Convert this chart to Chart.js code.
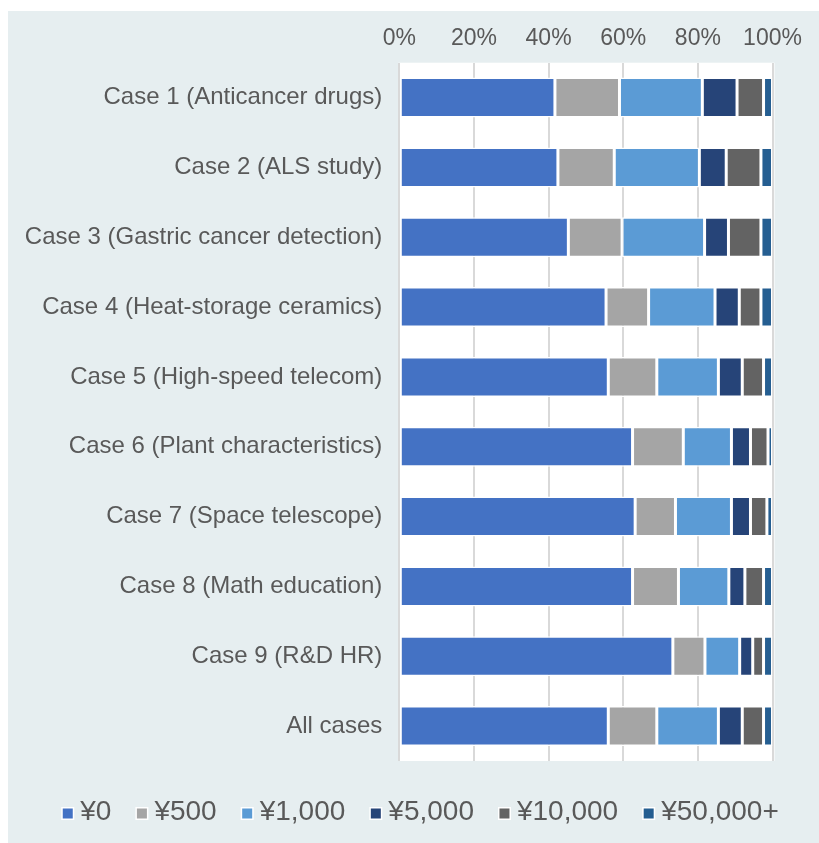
<!DOCTYPE html>
<html><head><meta charset="utf-8">
<script src="https://cdn.jsdelivr.net/npm/chart.js@4.4.1/dist/chart.umd.min.js"></script>
<style>html,body{margin:0;padding:0;background:#fff}canvas{display:block}</style>
</head><body>
<canvas id="c" width="819" height="843"></canvas>
<script>
const categories = [
  'Case 1 (Anticancer drugs)',
  'Case 2 (ALS study)',
  'Case 3 (Gastric cancer detection)',
  'Case 4 (Heat-storage ceramics)',
  'Case 5 (High-speed telecom)',
  'Case 6 (Plant characteristics)',
  'Case 7 (Space telescope)',
  'Case 8 (Math education)',
  'Case 9 (R&D HR)',
  'All cases'
];
const seriesLabels = ['¥0', '¥500', '¥1,000', '¥5,000', '¥10,000', '¥50,000+'];
const seriesColors = ['#4472c4', '#a5a5a5', '#5b9bd5', '#264478', '#636363', '#255e91'];
const yen0     = [41.7, 42.5, 45.3, 55.4, 56.0, 62.5, 63.2, 62.5, 73.3, 56.0];
const yen500   = [17.3, 15.1, 14.4, 11.4, 13.0, 13.6, 10.8, 12.3,  8.6, 13.0];
const yen1000  = [22.2, 22.8, 22.1, 17.8, 16.5, 12.9, 15.0, 13.5,  9.3, 16.5];
const yen5000  = [ 9.3,  7.2,  6.4,  6.5,  6.4,  5.1,  5.1,  4.3,  3.5,  6.4];
const yen10000 = [ 7.1,  9.3,  8.7,  5.8,  5.7,  4.7,  4.4,  5.0,  2.9,  5.7];
const yen50000 = [ 2.4,  3.1,  3.1,  3.1,  2.4,  1.2,  1.5,  2.4,  2.4,  2.4];
const xTickValues = [0, 20, 40, 60, 80, 100];
const seriesValues = [yen0, yen500, yen1000, yen5000, yen10000, yen50000];

const FONT = "'Liberation Sans', Arial, Helvetica, sans-serif";
const TEXT = '#595959';

const bgPlugin = {
  id: 'bg',
  beforeDraw(chart) {
    const ctx = chart.ctx, a = chart.chartArea;
    ctx.save();
    ctx.fillStyle = '#ffffff';
    ctx.fillRect(0, 0, chart.width, chart.height);
    ctx.fillStyle = '#e6eef0';
    ctx.fillRect(8, 11, chart.width - 8, chart.height - 11);
    ctx.fillStyle = '#ffffff';
    ctx.fillRect(a.left - 1, a.top, a.right - a.left + 3, a.bottom - a.top);
    ctx.restore();
  }
};

const legendPlugin = {
  id: 'customLegend',
  afterDraw(chart) {
    const ctx = chart.ctx;
    ctx.save();
    ctx.font = '28px ' + FONT;
    const box = 13, boxGap = 6, itemGap = 24;
    const items = chart.data.datasets.map(d => ({ label: d.label, color: d.backgroundColor, w: ctx.measureText(d.label).width }));
    const total = items.reduce((s, it) => s + box + boxGap + it.w, 0) + itemGap * (items.length - 1);
    let x = 420 - total / 2;
    const baseline = 820;
    ctx.textBaseline = 'alphabetic';
    ctx.textAlign = 'left';
    items.forEach(it => {
      ctx.fillStyle = '#ffffff';
      ctx.fillRect(x, baseline - box, box, box);
      ctx.fillStyle = it.color;
      ctx.fillRect(x + 1.5, baseline - box + 1.5, box - 3, box - 3);
      ctx.fillStyle = TEXT;
      ctx.fillText(it.label, x + box + boxGap, baseline);
      x += box + boxGap + it.w + itemGap;
    });
    ctx.restore();
  }
};

new Chart(document.getElementById('c'), {
  type: 'bar',
  data: {
    labels: categories,
    datasets: seriesLabels.map((lab, i) => ({
      label: lab,
      data: seriesValues[i],
      backgroundColor: seriesColors[i],
      borderColor: '#ffffff',
      borderWidth: 1.5,
      borderSkipped: false,
      barPercentage: 0.573,
      categoryPercentage: 1.0
    }))
  },
  options: {
    indexAxis: 'y',
    responsive: false,
    animation: false,
    devicePixelRatio: 1,
    layout: { padding: { top: 11, right: 46.5, bottom: 82, left: 0 } },
    plugins: { legend: { display: false }, tooltip: { enabled: false } },
    scales: {
      x: {
        position: 'top',
        stacked: true,
        min: 0, max: 100,
        afterBuildTicks(scale) { scale.ticks = xTickValues.map(v => ({ value: v })); },
        afterFit(scale) { scale.height = 51.7; },
        ticks: { callback: v => v + '%', color: TEXT, font: { family: FONT, size: 23 }, padding: 10, maxRotation: 0 },
        grid: { color: '#d9d9d9', lineWidth: 2, drawTicks: false },
        border: { display: false }
      },
      y: {
        stacked: true,
        afterFit(scale) { scale.width = 399.3; },
        ticks: { color: TEXT, font: { family: FONT, size: 24 }, padding: 17 },
        grid: { display: false, drawTicks: false },
        border: { display: false }
      }
    }
  },
  plugins: [bgPlugin, legendPlugin]
});
</script>
</body></html>
